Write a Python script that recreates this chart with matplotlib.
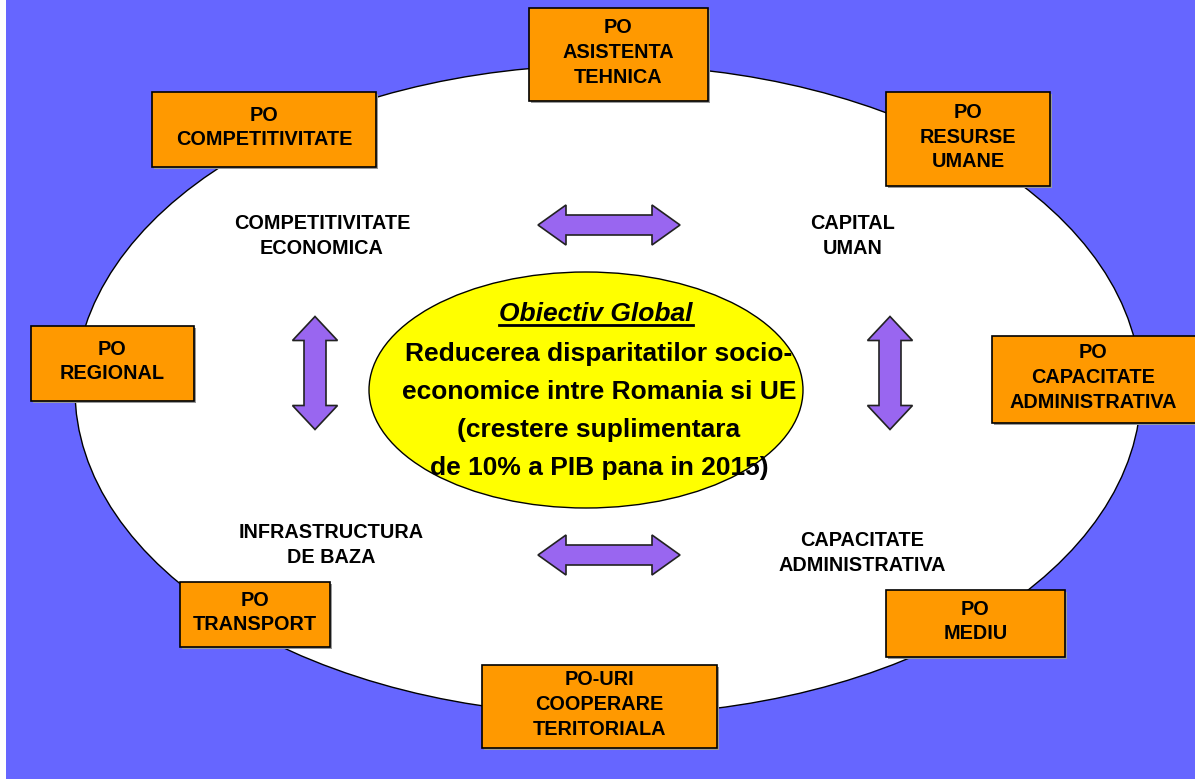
import matplotlib
matplotlib.use("Agg")
import matplotlib.pyplot as plt
from matplotlib import patches as mpatches

W, H = 1195, 779

# programme boxes: label, (x0, y0, x1, y1) in pixels
box_labels = [
    "PO\nASISTENTA\nTEHNICA",
    "PO\nCOMPETITIVITATE",
    "PO\nRESURSE\nUMANE",
    "PO\nREGIONAL",
    "PO\nCAPACITATE\nADMINISTRATIVA",
    "PO\nTRANSPORT",
    "PO\nMEDIU",
    "PO-URI\nCOOPERARE\nTERITORIALA",
]
box_extents = [
    (529, 8, 708, 101),
    (152, 92, 376, 167),
    (886, 92, 1050, 186),
    (31, 326, 194, 401),
    (992, 336, 1200, 423),
    (180, 582, 330, 647),
    (886, 590, 1065, 657),
    (482, 665, 717, 748),
]

# area labels inside the big ellipse
area_labels = [
    "COMPETITIVITATE\nECONOMICA",
    "CAPITAL\nUMAN",
    "INFRASTRUCTURA\nDE BAZA",
    "CAPACITATE\nADMINISTRATIVA",
]
area_pos = [(322, 236), (853, 236), (331, 545), (862, 553)]

# double arrows: centre, orientation
arrow_centres = [(609, 225), (609, 555), (315, 373), (890, 373)]
arrow_vertical = [False, False, True, True]

title_text = "Obiectiv Global"
body_lines = [
    "Reducerea disparitatilor socio-",
    "economice intre Romania si UE",
    "(crestere suplimentara",
    "de 10% a PIB pana in 2015)",
]

BLUE = "#6666ff"
ORANGE = "#ff9900"
PURPLE = "#9966f0"
YELLOW = "#ffff00"
FONT = ["Liberation Sans", "DejaVu Sans"]


def double_arrow(cx, cy, vertical, length=142, head_len=28, head_w=40, shaft_w=20):
    L, hl, hw, sw = length / 2, head_len, head_w / 2, shaft_w / 2
    pts = [(-L, 0), (-L + hl, -hw), (-L + hl, -sw), (L - hl, -sw), (L - hl, -hw),
           (L, 0), (L - hl, hw), (L - hl, sw), (-L + hl, sw), (-L + hl, hw)]
    if vertical:
        pts = [(cx + y, cy + x) for x, y in pts]
    else:
        pts = [(cx + x, cy + y) for x, y in pts]
    return pts


fig = plt.figure(figsize=(W / 100, H / 100), dpi=100)
ax = fig.add_axes([0, 0, 1, 1])
ax.set_xlim(0, W)
ax.set_ylim(H, 0)
ax.axis("off")

ax.add_patch(mpatches.Rectangle((6, 0), W - 6, H, facecolor=BLUE, edgecolor="none", zorder=0))
ax.add_patch(mpatches.Ellipse((608, 390), 1066, 650, facecolor="white", edgecolor="black", lw=1, zorder=1))
ax.add_patch(mpatches.Ellipse((586, 390), 434, 236, facecolor=YELLOW, edgecolor="black", lw=1, zorder=2))

for (cx, cy), vert in zip(arrow_centres, arrow_vertical):
    length = 113 if vert else 142
    head_w = 45 if vert else 40
    shaft_w = 22 if vert else 20
    ax.add_patch(mpatches.Polygon(double_arrow(cx, cy, vert, length, 24 if vert else 28, head_w, shaft_w),
                                  closed=True, facecolor=PURPLE, edgecolor="#222222", lw=1.2, zorder=3))

for label, (x0, y0, x1, y1) in zip(box_labels, box_extents):
    # light shadow then the box
    ax.add_patch(mpatches.Rectangle((x0 + 2, y0 + 2), x1 - x0, y1 - y0, facecolor="#999999",
                                    edgecolor="none", zorder=4))
    ax.add_patch(mpatches.Rectangle((x0, y0), x1 - x0, y1 - y0, facecolor=ORANGE,
                                    edgecolor="black", lw=1.2, zorder=5))
    cx = (x0 + min(x1, W)) / 2
    ax.text(cx, (y0 + y1) / 2 - 2, label, ha="center", va="center",
            fontsize=14.3, fontweight="bold", family=FONT, linespacing=1.38, zorder=6)

for label, (x, y) in zip(area_labels, area_pos):
    ax.text(x, y, label, ha="center", va="center", fontsize=14.3, fontweight="bold",
            family=FONT, linespacing=1.38, zorder=6)

t = ax.text(596, 314, title_text, ha="center", va="center", fontsize=19, fontweight="bold",
            style="italic", family=FONT, zorder=6)
for i, line in enumerate(body_lines):
    ax.text(599, 354 + 38 * i, line, ha="center", va="center", fontsize=19, fontweight="bold",
            family=FONT, zorder=6)

# underline the title using its rendered extent
fig.canvas.draw()
bb = t.get_window_extent().transformed(ax.transData.inverted())
ax.plot([bb.x0, bb.x1], [325, 325], color="black", lw=2, zorder=6)
ax.text(bb.x1 + 1, 314, ":", ha="left", va="center", fontsize=19, fontweight="bold",
        family=FONT, color=YELLOW, zorder=6)

fig.savefig("out.png", dpi=100)
